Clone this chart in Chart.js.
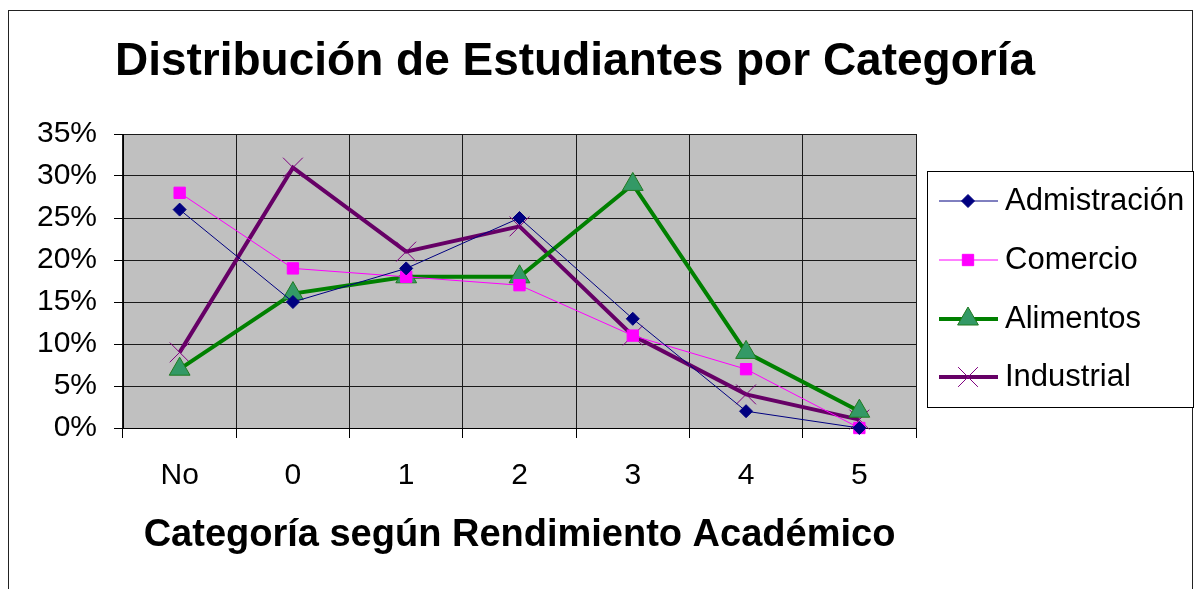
<!DOCTYPE html>
<html lang="es">
<head>
<meta charset="utf-8">
<title>Distribución de Estudiantes por Categoría</title>
<script src="https://cdn.jsdelivr.net/npm/chart.js@4/dist/chart.umd.min.js"></script>
<style>
    html, body { margin: 0; padding: 0; background: #fff; }
    #grafico { display: block; }
</style>
</head>
<body>
<canvas id="grafico" width="1196" height="589"></canvas>
<script>
// datos del gráfico
const categorias = ['No', '0', '1', '2', '3', '4', '5'];
const admistracion = [0.26, 0.15, 0.19, 0.25, 0.13, 0.02, 0.00];
const comercio = [0.28, 0.19, 0.18, 0.17, 0.11, 0.07, 0.00];
const alimentos = [0.07, 0.16, 0.18, 0.18, 0.29, 0.09, 0.02];
const industrial = [0.09, 0.31, 0.21, 0.24, 0.11, 0.04, 0.01];
const ticksY = [0, 0.05, 0.10, 0.15, 0.20, 0.25, 0.30, 0.35];

const fuente = "'Liberation Sans', Arial, sans-serif";

document.addEventListener('DOMContentLoaded', function() {
    // fondo gris del área de trazado y marco exterior
    const fondoPlugin = {
        id: 'fondo',
        beforeDraw(chart) {
            const ctx = chart.ctx;
            const a = chart.chartArea;
            ctx.save();
            ctx.fillStyle = '#fff';
            ctx.fillRect(0, 0, chart.width, chart.height);
            ctx.strokeStyle = '#222';
            ctx.lineWidth = 1;
            ctx.strokeRect(8.5, 10.5, 1184, 620);
            ctx.fillStyle = '#c0c0c0';
            ctx.fillRect(a.left, a.top, a.right - a.left, a.bottom - a.top);
            ctx.restore();
        }
    };

    // título y leyenda con línea + marcador
    const leyendaPlugin = {
        id: 'leyendaCaja',
        afterDraw(chart) {
            const ctx = chart.ctx;
            ctx.save();
            ctx.fillStyle = '#000';
            ctx.font = 'bold 46px ' + fuente;
            ctx.textAlign = 'center';
            ctx.textBaseline = 'alphabetic';
            ctx.fillText('Distribución de Estudiantes por Categoría', 575, 75);

            ctx.fillStyle = '#fff';
            ctx.fillRect(927.5, 171.5, 266, 236);
            ctx.strokeStyle = '#000';
            ctx.lineWidth = 1;
            ctx.strokeRect(927.5, 171.5, 266, 236);

            const filas = [201, 260, 319, 377];
            chart.data.datasets.forEach((ds, i) => {
                const y = filas[i];
                ctx.beginPath();
                ctx.strokeStyle = ds.borderColor;
                ctx.lineWidth = ds.borderWidth;
                ctx.moveTo(939, y);
                ctx.lineTo(998, y);
                ctx.stroke();
                ctx.fillStyle = ds.pointBackgroundColor;
                ctx.strokeStyle = ds.pointBorderColor;
                ctx.lineWidth = ds.pointBorderWidth;
                Chart.helpers.drawPoint(ctx, {
                    pointStyle: ds.pointStyle,
                    radius: ds.pointRadius,
                    rotation: 0,
                    borderWidth: ds.pointBorderWidth
                }, 968, y);
                ctx.fillStyle = '#000';
                ctx.font = '31px ' + fuente;
                ctx.textAlign = 'left';
                ctx.textBaseline = 'middle';
                ctx.fillText(ds.label, 1005, y);
            });
            ctx.restore();
        }
    };

    const ctx = document.getElementById('grafico');
    new Chart(ctx, {
        type: 'line',
        data: {
            labels: categorias,
            datasets: [{
                label: 'Admistración',
                data: admistracion,
                borderColor: '#000080',
                borderWidth: 1,
                pointStyle: 'rectRot',
                pointRadius: 6.5,
                pointBackgroundColor: '#000080',
                pointBorderColor: '#000080',
                pointBorderWidth: 1
            }, {
                label: 'Comercio',
                data: comercio,
                borderColor: '#ff00ff',
                borderWidth: 1,
                pointStyle: 'rect',
                pointRadius: 8,
                pointBackgroundColor: '#ff00ff',
                pointBorderColor: '#ff00ff',
                pointBorderWidth: 1
            }, {
                label: 'Alimentos',
                data: alimentos,
                borderColor: '#008000',
                borderWidth: 4,
                pointStyle: 'triangle',
                pointRadius: 12,
                pointBackgroundColor: '#339966',
                pointBorderColor: '#1f7a1f',
                pointBorderWidth: 1
            }, {
                label: 'Industrial',
                data: industrial,
                borderColor: '#660066',
                borderWidth: 4,
                pointStyle: 'crossRot',
                pointRadius: 14,
                pointBackgroundColor: '#800080',
                pointBorderColor: '#800080',
                pointBorderWidth: 1
            }]
        },
        options: {
            responsive: false,
            animation: false,
            events: [],
            layout: { padding: { top: 134, right: 280, bottom: 0, left: 0 } },
            elements: { line: { tension: 0 } },
            datasets: { line: { clip: false } },
            plugins: {
                legend: { display: false },
                title: { display: false },
                tooltip: { enabled: false }
            },
            scales: {
                x: {
                    type: 'category',
                    offset: true,
                    grid: { offset: true, color: '#1a1a1a', lineWidth: 1, tickLength: 10, tickColor: '#000' },
                    border: { color: '#000', width: 1 },
                    ticks: { color: '#000', padding: 20, font: { family: fuente, size: 30 }, maxRotation: 0 },
                    title: {
                        display: true,
                        text: 'Categoría según Rendimiento Académico',
                        color: '#000',
                        font: { family: fuente, size: 38, weight: 'bold' },
                        padding: { top: 0, bottom: 31 }
                    },
                    afterFit(escala) { escala.height = 161; }
                },
                y: {
                    min: 0,
                    max: 0.35,
                    grid: { color: '#1a1a1a', lineWidth: 1, tickLength: 9, tickColor: '#000' },
                    border: { color: '#000', width: 1 },
                    afterBuildTicks(escala) { escala.ticks = ticksY.map(v => ({ value: v })); },
                    ticks: {
                        color: '#000',
                        padding: 17,
                        font: { family: fuente, size: 30 },
                        callback: v => Math.round(v * 100) + '%'
                    },
                    afterFit(escala) { escala.width = 123; }
                }
            }
        },
        plugins: [fondoPlugin, leyendaPlugin]
    });
});
</script>
</body>
</html>
